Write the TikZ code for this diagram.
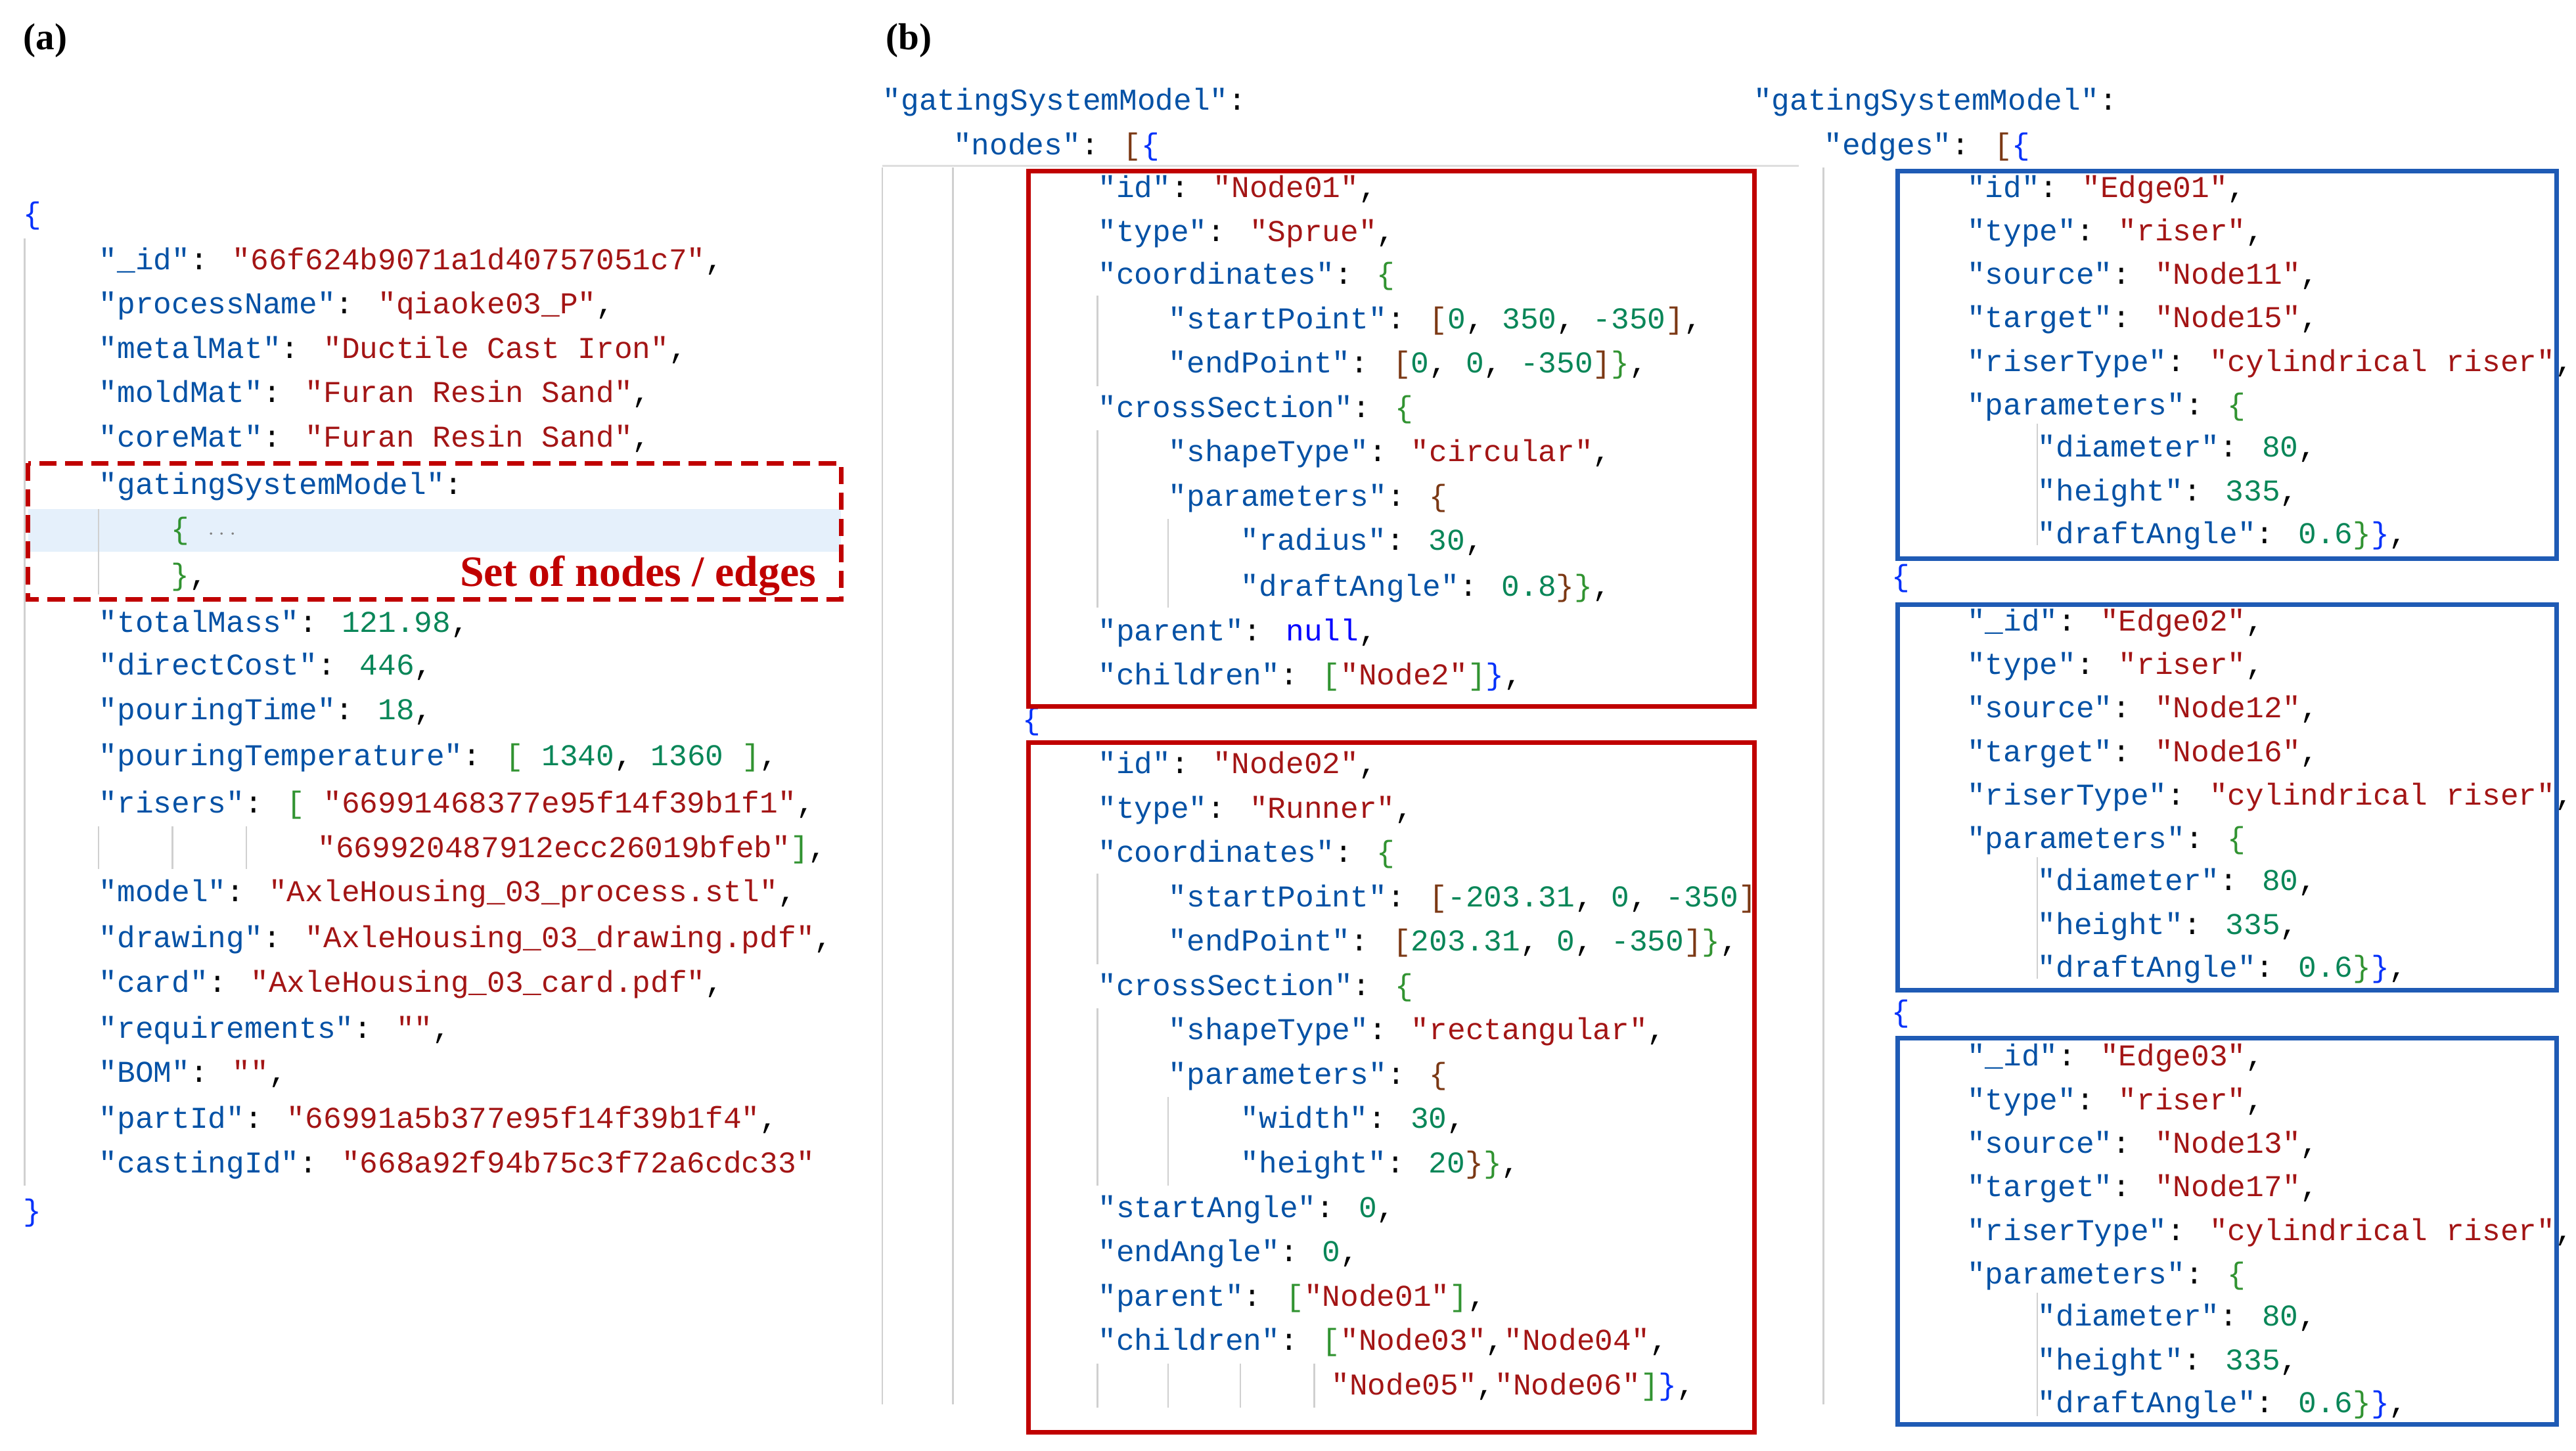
\documentclass[tikz,border=0pt]{standalone}
\usepackage{fontspec}
\setmainfont{Liberation Serif}
\newfontfamily\code{Liberation Mono}
\definecolor{keyc}{HTML}{0451A5}
\definecolor{strc}{HTML}{A31515}
\definecolor{numc}{HTML}{098658}
\definecolor{bblue}{HTML}{0431FA}
\definecolor{bgreen}{HTML}{319331}
\definecolor{bbrown}{HTML}{7B3814}
\definecolor{nullc}{HTML}{0000FF}
\definecolor{redbox}{HTML}{C00000}
\definecolor{bluebox}{HTML}{1F5BB5}
\definecolor{guide}{HTML}{D0D0D0}
\definecolor{hl}{HTML}{E5F0FB}
\newcommand\kw[1]{{\color{keyc}#1}}
\newcommand\st[1]{{\color{strc}#1}}
\newcommand\nm[1]{{\color{numc}#1}}
\newcommand\bA[1]{{\color{bblue}#1}}
\newcommand\bG[1]{{\color{bgreen}#1}}
\newcommand\bO[1]{{\color{bbrown}#1}}
\newcommand\cl[3]{\node[codeline] at (#1,#2+6) {#3};}
\begin{document}
\begin{tikzpicture}[x=0.02cm,y=-0.02cm,
  codeline/.style={anchor=base west,inner sep=0pt,font=\code\fontsize{10.5}{12}\selectfont},
  guideline/.style={draw=guide,line width=0.6pt},
  rbox/.style={draw=redbox,line width=1.6pt},
  bbox/.style={draw=bluebox,line width=1.6pt},
  lab/.style={anchor=base west,inner sep=0pt,font=\bfseries\fontsize{13}{15}\selectfont}]
\useasboundingbox (0,0) rectangle (1568,883);
% labels
\node[lab] (la) at (14,30) {(a)};
\node[lab] (lb) at (539,30) {(b)};
% ---------- panel (a)
\fill[hl] (17,310) rectangle (512,336);
\draw[guideline] (15,145) -- (15,722);
\draw[guideline] (60,310) -- (60,362);
\draw[guideline] (60,503) -- (60,529) (105,503) -- (105,529) (150,503) -- (150,529);
\cl{14}{130}{\bA{\{}}
\cl{60}{158}{\kw{"\_id"}: \st{"66f624b9071a1d40757051c7"},}
\cl{60}{185}{\kw{"processName"}: \st{"qiaoke03\_P"},}
\cl{60}{212}{\kw{"metalMat"}: \st{"Ductile Cast Iron"},}
\cl{60}{239}{\kw{"moldMat"}: \st{"Furan Resin Sand"},}
\cl{60}{266}{\kw{"coreMat"}: \st{"Furan Resin Sand"},}
\cl{60}{295}{\kw{"gatingSystemModel"}:}
\cl{104}{322}{\bG{\{} {\color{gray}\fontsize{7}{8}\selectfont$\cdots$}}
\cl{104}{350}{\bG{\}},}
\cl{60}{379}{\kw{"totalMass"}: \nm{121.98},}
\cl{60}{405}{\kw{"directCost"}: \nm{446},}
\cl{60}{432}{\kw{"pouringTime"}: \nm{18},}
\cl{60}{460}{\kw{"pouringTemperature"}: \bG{[} \nm{1340}, \nm{1360} \bG{]},}
\cl{60}{489}{\kw{"risers"}: \bG{[} \st{"66991468377e95f14f39b1f1"},}
\cl{193}{516}{\st{"669920487912ecc26019bfeb"}\bG{]},}
\cl{60}{543}{\kw{"model"}: \st{"AxleHousing\_03\_process.stl"},}
\cl{60}{571}{\kw{"drawing"}: \st{"AxleHousing\_03\_drawing.pdf"},}
\cl{60}{598}{\kw{"card"}: \st{"AxleHousing\_03\_card.pdf"},}
\cl{60}{626}{\kw{"requirements"}: \st{""},}
\cl{60}{653}{\kw{"BOM"}: \st{""},}
\cl{60}{681}{\kw{"partId"}: \st{"66991a5b377e95f14f39b1f4"},}
\cl{60}{708}{\kw{"castingId"}: \st{"668a92f94b75c3f72a6cdc33"}}
\cl{14}{737}{\bA{\}}}
\draw[redbox,line width=1.6pt,dash pattern=on 6pt off 3pt] (17,282) rectangle (512,365);
\node[anchor=base east,inner sep=0pt,text=redbox,font=\bfseries\fontsize{15}{17}\selectfont] (setlab) at (497,357) {Set of nodes / edges};
% ---------- panel (b) nodes
\draw[guide!70,line width=0.8pt] (537,101) -- (1095,101);
\draw[guideline] (537,102) -- (537,855) (580,102) -- (580,855);
\cl{537}{61}{\kw{"gatingSystemModel"}:}
\cl{580}{88}{\kw{"nodes"}: \bO{[}\bA{\{}}
\draw[guideline] (668,180) -- (668,235) (668,262) -- (668,370) (711,316) -- (711,370);
\cl{668}{114}{\kw{"id"}: \st{"Node01"},}
\cl{668}{141}{\kw{"type"}: \st{"Sprue"},}
\cl{668}{167}{\kw{"coordinates"}: \bG{\{}}
\cl{711}{194}{\kw{"startPoint"}: \bO{[}\nm{0}, \nm{350}, \nm{-350}\bO{]},}
\cl{711}{221}{\kw{"endPoint"}: \bO{[}\nm{0}, \nm{0}, \nm{-350}\bO{]}\bG{\}},}
\cl{668}{248}{\kw{"crossSection"}: \bG{\{}}
\cl{711}{275}{\kw{"shapeType"}: \st{"circular"},}
\cl{711}{302}{\kw{"parameters"}: \bO{\{}}
\cl{755}{329}{\kw{"radius"}: \nm{30},}
\cl{755}{357}{\kw{"draftAngle"}: \nm{0.8}\bO{\}}\bG{\}},}
\cl{668}{384}{\kw{"parent"}: {\color{nullc}null},}
\cl{668}{411}{\kw{"children"}: \bG{[}\st{"Node2"}\bG{]}\bA{\}},}
\cl{622}{438}{\bA{\{}}
\draw[guideline] (668,532) -- (668,587) (668,614) -- (668,722) (711,668) -- (711,722)
  (668,830) -- (668,857) (711,830) -- (711,857) (755,830) -- (755,857) (800,830) -- (800,857);
\cl{668}{465}{\kw{"id"}: \st{"Node02"},}
\cl{668}{492}{\kw{"type"}: \st{"Runner"},}
\cl{668}{519}{\kw{"coordinates"}: \bG{\{}}
\cl{711}{546}{\kw{"startPoint"}: \bO{[}\nm{-203.31}, \nm{0}, \nm{-350}\bO{]}}
\cl{711}{573}{\kw{"endPoint"}: \bO{[}\nm{203.31}, \nm{0}, \nm{-350}\bO{]}\bG{\}},}
\cl{668}{600}{\kw{"crossSection"}: \bG{\{}}
\cl{711}{627}{\kw{"shapeType"}: \st{"rectangular"},}
\cl{711}{654}{\kw{"parameters"}: \bO{\{}}
\cl{755}{681}{\kw{"width"}: \nm{30},}
\cl{755}{708}{\kw{"height"}: \nm{20}\bO{\}}\bG{\}},}
\cl{668}{735}{\kw{"startAngle"}: \nm{0},}
\cl{668}{762}{\kw{"endAngle"}: \nm{0},}
\cl{668}{789}{\kw{"parent"}: \bG{[}\st{"Node01"}\bG{]},}
\cl{668}{816}{\kw{"children"}: \bG{[}\st{"Node03"},\st{"Node04"},}
\cl{810}{843}{\st{"Node05"},\st{"Node06"}\bG{]}\bA{\}},}
\draw[rbox] (626,104) rectangle (1068,430);
\draw[rbox] (626,452) rectangle (1068,872);
% ---------- panel (b) edges
\draw[guideline] (1110,102) -- (1110,855);
\cl{1067}{61}{\kw{"gatingSystemModel"}:}
\cl{1110}{88}{\kw{"edges"}: \bO{[}\bA{\{}}
\draw[guideline] (1240,258) -- (1240,332) (1240,522) -- (1240,596) (1240,787) -- (1240,862);
\foreach \y/\id/\idk/\s/\t in {114/Edge01/"id"/Node11/Node15, 378/Edge02/"\_id"/Node12/Node16, 643/Edge03/"\_id"/Node13/Node17}{
\cl{1197}{\y}{\kw{\idk}: \st{"\id"},}
\cl{1197}{\y+26.5}{\kw{"type"}: \st{"riser"},}
\cl{1197}{\y+53}{\kw{"source"}: \st{"\s"},}
\cl{1197}{\y+79.5}{\kw{"target"}: \st{"\t"},}
\cl{1197}{\y+106}{\kw{"riserType"}: \st{"cylindrical riser"},}
\cl{1197}{\y+132.5}{\kw{"parameters"}: \bG{\{}}
\cl{1240}{\y+158}{\kw{"diameter"}: \nm{80},}
\cl{1240}{\y+185}{\kw{"height"}: \nm{335},}
\cl{1240}{\y+211}{\kw{"draftAngle"}: \nm{0.6}\bG{\}}\bA{\}},}
}
\cl{1151}{351}{\bA{\{}}
\cl{1151}{616}{\bA{\{}}
\draw[bbox] (1155,104) rectangle (1556,340);
\draw[bbox] (1155,368) rectangle (1556,603);
\draw[bbox] (1155,632) rectangle (1556,867);
\end{tikzpicture}
\end{document}
